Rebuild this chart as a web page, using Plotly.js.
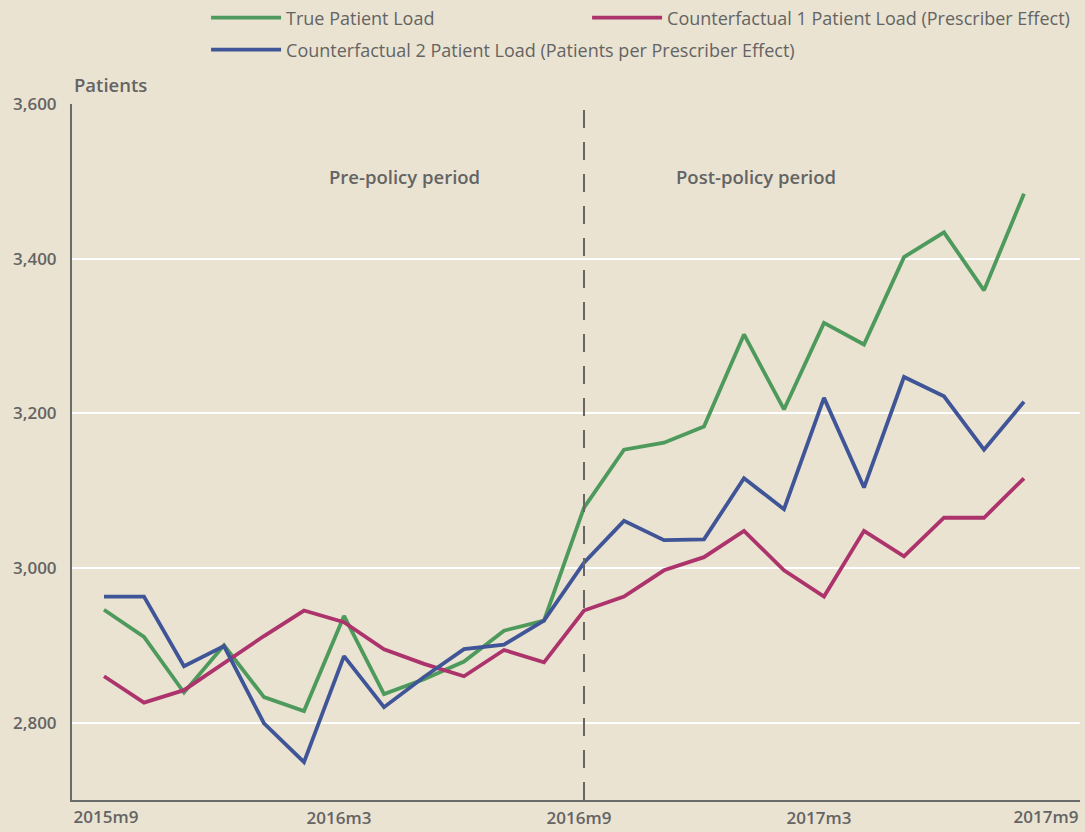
<!DOCTYPE html>
<html>
<head>
<meta charset="utf-8">
<script src="https://cdn.plot.ly/plotly-3.0.1.min.js"></script>
<style>
  html, body { margin: 0; padding: 0; background: #EAE3D1; }
  #chart { width: 1085px; height: 832px; }
</style>
</head>
<body>
<div id="chart"></div>
<script>
// Months 2015m9 .. 2017m8 (index 0..23)
const months = ["2015m9","2015m10","2015m11","2015m12","2016m1","2016m2","2016m3","2016m4","2016m5","2016m6","2016m7","2016m8",
                "2016m9","2016m10","2016m11","2016m12","2017m1","2017m2","2017m3","2017m4","2017m5","2017m6","2017m7","2017m8"];
const truePatientLoad = [2946, 2911, 2839, 2900, 2833, 2815, 2938, 2837, 2856, 2879, 2919, 2932,
                         3078, 3153, 3162, 3183, 3302, 3205, 3317, 3289, 3402, 3434, 3359, 3484];
const counterfactual1 = [2860, 2826, 2842, 2877, 2912, 2945, 2930, 2895, 2876, 2860, 2894, 2878,
                         2945, 2963, 2997, 3014, 3048, 2997, 2963, 3048, 3015, 3065, 3065, 3116];
const counterfactual2 = [2963, 2963, 2873, 2899, 2799, 2749, 2886, 2820, 2859, 2895, 2901, 2932,
                         3007, 3061, 3036, 3037, 3116, 3076, 3220, 3104, 3247, 3222, 3153, 3215];
// x tick labels (month index -> label); first and last are nudged to stay inside the figure
const tickIndexMid = [6, 12, 18];
const tickLabelsMid = ["2016m3", "2016m9", "2017m3"];
const tickIndexFirst = [0];
const tickLabelsFirst = ["2015m9"];
const tickIndexLast = [24];
const tickLabelsLast = ["2017m9"];
const yTicks = [2800, 3000, 3200, 3400, 3600];
const seriesNames = ["True Patient Load", "Counterfactual 1 Patient Load (Prescriber Effect)",
                     "Counterfactual 2 Patient Load (Patients per Prescriber Effect)"];
const policyIndex = 12;

const xIdx = months.map((m, i) => i);
const GREEN = "#4E9A5C", PINK = "#AC336B", BLUE = "#3F5597";
const TXT = "#646464", AX = "#6B6B6B", BG = "#EAE3D1";
const FONT = "Open Sans, sans-serif";
const XRANGE = [-0.8, 24.4];

const traces = [
  { x: xIdx, y: truePatientLoad, name: seriesNames[0], mode: "lines", legend: "legend",
    line: { color: GREEN, width: 3.8 }, text: months, hoverinfo: "text+y" },
  { x: xIdx, y: counterfactual1, name: seriesNames[1], mode: "lines", legend: "legend2",
    line: { color: PINK, width: 3.8 }, text: months, hoverinfo: "text+y" },
  { x: xIdx, y: counterfactual2, name: seriesNames[2], mode: "lines", legend: "legend3",
    line: { color: BLUE, width: 3.8 }, text: months, hoverinfo: "text+y" },
  // invisible helpers so the overlay label axes are drawn
  { x: [null], y: [null], xaxis: "x2", yaxis: "y", showlegend: false, hoverinfo: "skip" },
  { x: [null], y: [null], xaxis: "x3", yaxis: "y", showlegend: false, hoverinfo: "skip" }
];

const legendBase = {
  orientation: "h", bgcolor: "rgba(0,0,0,0)", borderwidth: 0,
  font: { family: FONT, size: 18, color: TXT }, itemwidth: 70,
  xanchor: "left", yanchor: "middle", xref: "paper", yref: "paper"
};

const xTickFont = { family: FONT, size: 17, weight: 600, color: TXT };
const overlayAxis = (vals, txt, shift) => ({
  overlaying: "x", anchor: "y", side: "bottom", range: XRANGE,
  tickmode: "array", tickvals: vals, ticktext: txt, ticklabelshift: shift,
  showgrid: false, zeroline: false, showline: false,
  ticks: "outside", ticklen: 2, tickcolor: "rgba(0,0,0,0)",
  tickfont: xTickFont, fixedrange: true
});

const layout = {
  width: 1085, height: 832,
  paper_bgcolor: BG, plot_bgcolor: BG,
  margin: { l: 72, r: 5, t: 104, b: 32, autoexpand: false },
  font: { family: FONT, color: TXT },
  showlegend: true,
  legend:  Object.assign({}, legendBase, { x: 0.133, y: 1.1236 }),
  legend2: Object.assign({}, legendBase, { x: 0.511, y: 1.1236 }),
  legend3: Object.assign({}, legendBase, { x: 0.133, y: 1.0776 }),
  xaxis: {
    range: XRANGE, tickmode: "array", tickvals: tickIndexMid, ticktext: tickLabelsMid, ticklabelshift: -5,
    showgrid: false, zeroline: false, showline: true, linecolor: AX, linewidth: 2,
    ticks: "outside", ticklen: 2, tickcolor: "rgba(0,0,0,0)",
    tickfont: xTickFont, fixedrange: true
  },
  xaxis2: overlayAxis(tickIndexFirst, tickLabelsFirst, 2),
  xaxis3: overlayAxis(tickIndexLast, tickLabelsLast, -18),
  yaxis: {
    range: [2700, 3600], tickmode: "array", tickvals: yTicks,
    tickformat: ",", showgrid: true, gridcolor: "#FFFFFF", gridwidth: 1.6,
    zeroline: false, showline: true, linecolor: AX, linewidth: 2,
    ticks: "outside", ticklen: 10, tickcolor: "rgba(0,0,0,0)",
    tickfont: { family: FONT, size: 17, weight: 600, color: TXT }, fixedrange: true
  },
  shapes: [{
    type: "line", xref: "x", yref: "paper", x0: policyIndex, x1: policyIndex, y0: 0, y1: 1,
    line: { color: "#666666", width: 2, dash: "18px,14px" }
  }],
  annotations: [
    { text: "Patients", xref: "paper", yref: "paper", x: 0.0, y: 1.0273, xanchor: "left", yanchor: "middle",
      showarrow: false, font: { family: FONT, size: 18.5, weight: 600, color: TXT } },
    { text: "Pre-policy period", xref: "x", yref: "y", x: 7.5, y: 3506, showarrow: false,
      font: { family: FONT, size: 18.5, weight: 600, color: TXT } },
    { text: "Post-policy period", xref: "x", yref: "y", x: 16.3, y: 3506, showarrow: false,
      font: { family: FONT, size: 18.5, weight: 600, color: TXT } }
  ]
};

Plotly.newPlot("chart", traces, layout, { displayModeBar: false, responsive: false });
</script>
</body>
</html>
